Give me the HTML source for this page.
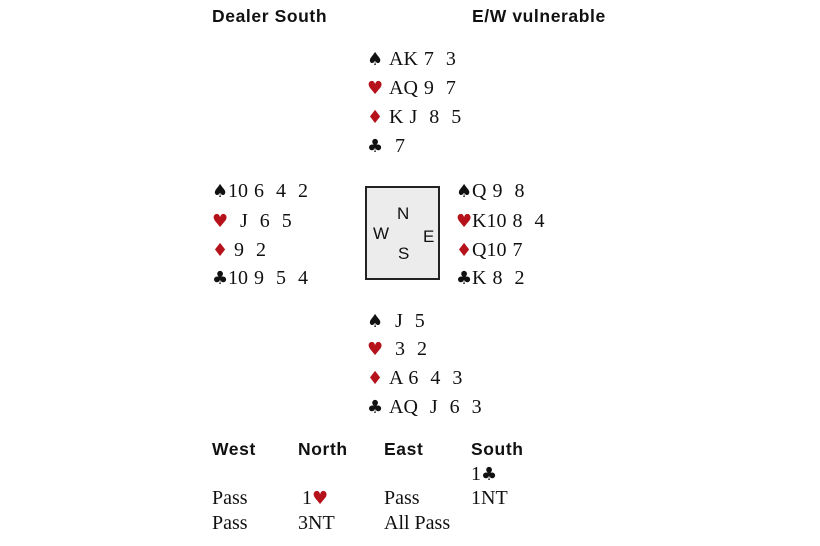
<!DOCTYPE html>
<html><head><meta charset="utf-8"><style>
body{margin:0;width:820px;height:546px;background:#fff;position:relative;overflow:hidden}
.t{position:absolute;line-height:22px;white-space:pre;font-family:"Liberation Serif",serif;font-size:20px;color:#111;word-spacing:1px}
.h{position:absolute;line-height:22px;font-family:"Liberation Sans",sans-serif;font-weight:bold;font-size:17.5px;letter-spacing:0.6px;color:#111;white-space:nowrap}
.r{color:#b5121b}
.s{display:inline-block;width:22px;font-family:"DejaVu Sans",sans-serif;font-size:18px;text-align:left}
.w .s{width:16px}
.box{position:absolute;left:365px;top:186px;width:75px;height:94px;border:2px solid #222;background:#ececec;box-sizing:border-box}
.c{position:absolute;font-family:"Liberation Sans",sans-serif;font-size:17px;color:#111;line-height:18px}
.bid{word-spacing:0}
</style></head><body>
<div class="h" style="left:212px;top:5px">Dealer South</div>
<div class="h" style="left:472px;top:5px">E/W vulnerable</div>

<div class="t" style="left:367px;top:48px"><span class="s">♠</span>AK 7  3</div>
<div class="t" style="left:367px;top:77px"><span class="s r">♥</span>AQ 9  7</div>
<div class="t" style="left:367px;top:106px"><span class="s r">♦</span>K J  8  5</div>
<div class="t" style="left:367px;top:135px"><span class="s">♣</span> 7</div>

<div class="t w" style="left:212px;top:180px"><span class="s">♠</span>10 6  4  2</div>
<div class="t w" style="left:212px;top:210px"><span class="s r">♥</span>  J  6  5</div>
<div class="t w" style="left:212px;top:239px"><span class="s r">♦</span> 9  2</div>
<div class="t w" style="left:212px;top:267px"><span class="s">♣</span>10 9  5  4</div>

<div class="box"></div>
<div class="c" style="left:397px;top:205px">N</div>
<div class="c" style="left:373px;top:225px">W</div>
<div class="c" style="left:423px;top:228px">E</div>
<div class="c" style="left:398px;top:245px">S</div>

<div class="t w" style="left:456px;top:180px"><span class="s">♠</span>Q 9  8</div>
<div class="t w" style="left:456px;top:210px"><span class="s r">♥</span>K10 8  4</div>
<div class="t w" style="left:456px;top:239px"><span class="s r">♦</span>Q10 7</div>
<div class="t w" style="left:456px;top:267px"><span class="s">♣</span>K 8  2</div>

<div class="t" style="left:367px;top:310px"><span class="s">♠</span> J  5</div>
<div class="t" style="left:367px;top:338px"><span class="s r">♥</span> 3  2</div>
<div class="t" style="left:367px;top:367px"><span class="s r">♦</span>A 6  4  3</div>
<div class="t" style="left:367px;top:396px"><span class="s">♣</span>AQ  J  6  3</div>

<div class="h" style="left:212px;top:438px">West</div>
<div class="h" style="left:298px;top:438px">North</div>
<div class="h" style="left:384px;top:438px">East</div>
<div class="h" style="left:471px;top:438px">South</div>

<div class="t bid" style="left:471px;top:463px">1<span style="font-family:'DejaVu Sans',sans-serif;font-size:18px">♣</span></div>
<div class="t bid" style="left:212px;top:487px">Pass</div>
<div class="t bid" style="left:302px;top:487px">1<span class="r" style="font-family:'DejaVu Sans',sans-serif;font-size:18px">♥</span></div>
<div class="t bid" style="left:384px;top:487px">Pass</div>
<div class="t bid" style="left:471px;top:487px">1NT</div>
<div class="t bid" style="left:212px;top:512px">Pass</div>
<div class="t bid" style="left:298px;top:512px">3NT</div>
<div class="t bid" style="left:384px;top:512px">All Pass</div>
</body></html>
